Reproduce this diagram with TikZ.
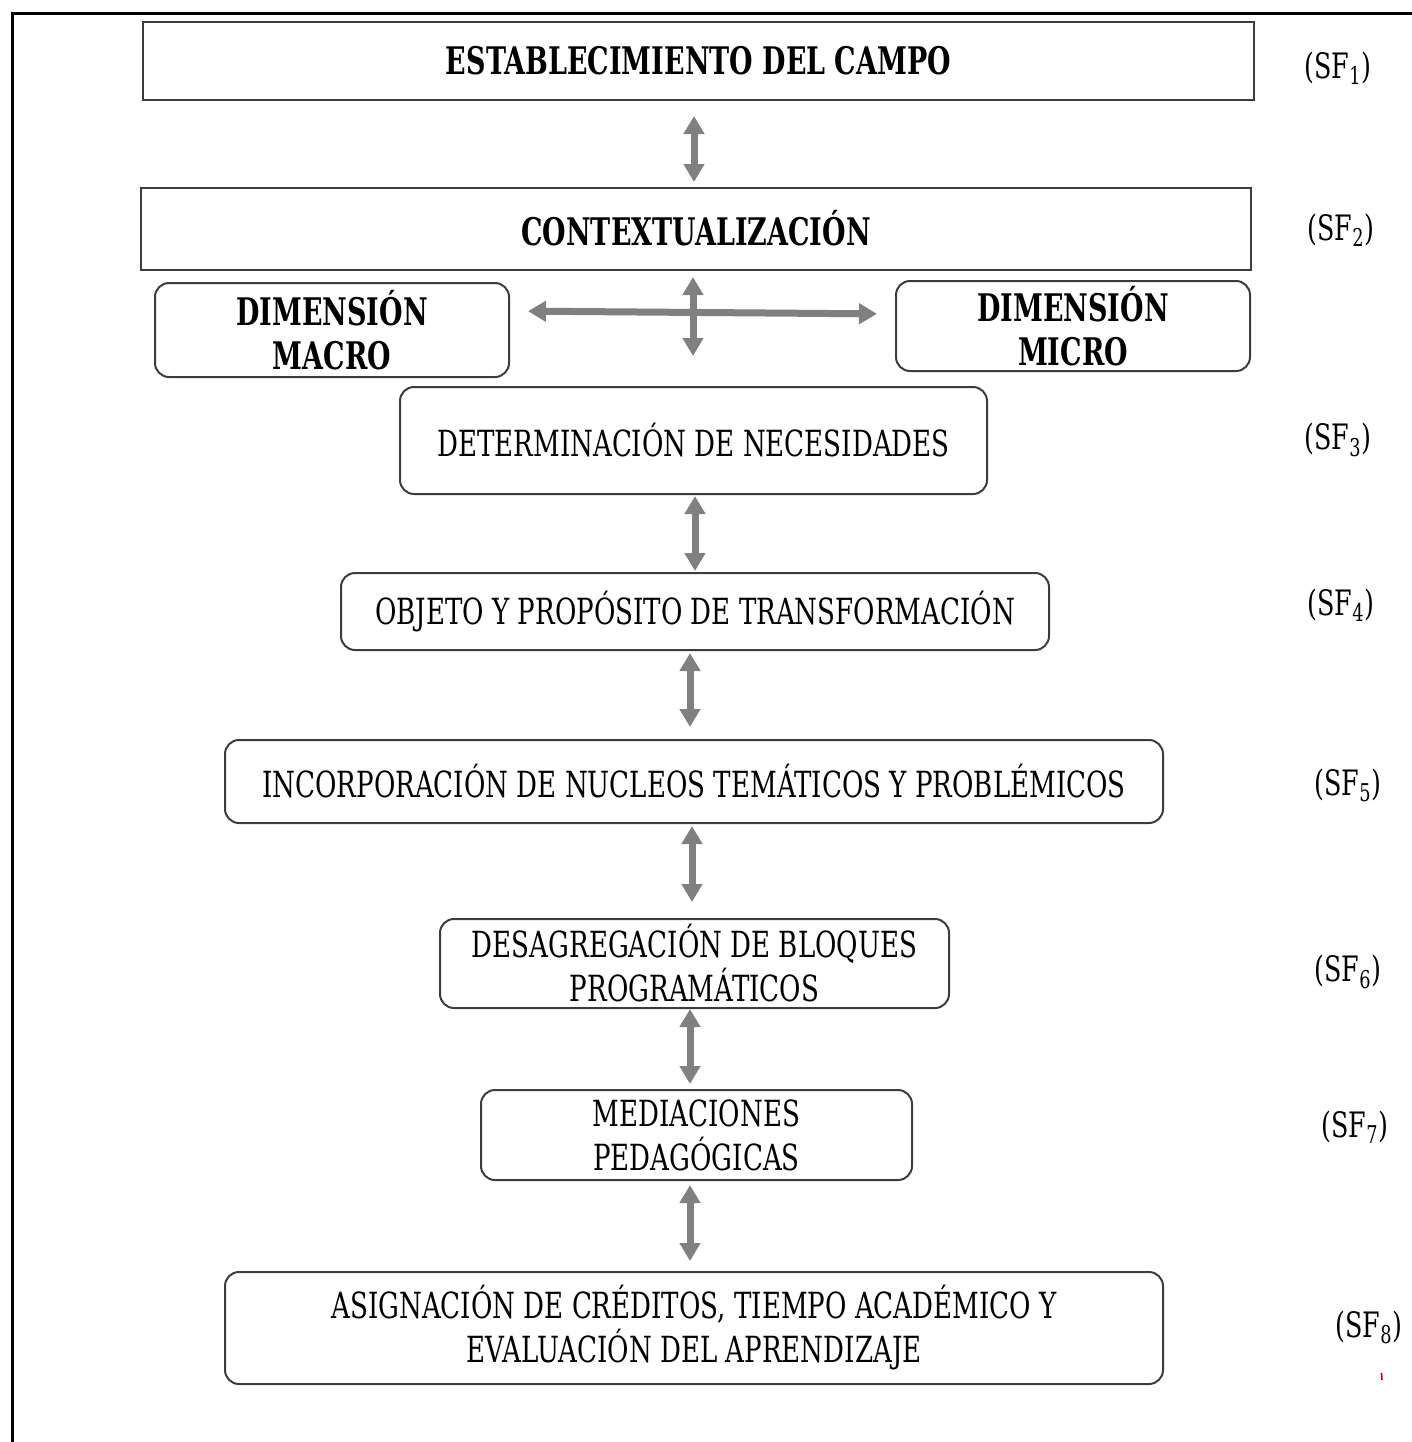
\documentclass[tikz,border=0pt]{standalone}
\usepackage{fontspec}
\setmainfont{DejaVu Serif}[FakeStretch=0.725,BoldFeatures={FakeStretch=0.71}]
\usetikzlibrary{arrows.meta}
\definecolor{arrowgray}{RGB}{128,128,128}
\definecolor{boxline}{RGB}{60,60,60}
\begin{document}
\begin{tikzpicture}[x=0.5pt,y=-0.5pt,
  sqbox/.style={draw=boxline,line width=1pt,inner sep=0pt,align=center,font=\fontsize{19}{22}\selectfont\bfseries},
  rbox/.style={draw=boxline,line width=1pt,rounded corners=7pt,inner sep=0pt,align=center,font=\fontsize{18}{22}\selectfont},
  dimbox/.style={rbox,font=\fontsize{19}{22}\selectfont\bfseries},
  dblarrow/.style={draw=arrowgray,line width=3.5pt,{Triangle[width=10pt,length=9pt]}-{Triangle[width=10pt,length=9pt]}},
  sflabel/.style={inner sep=0pt,font=\fontsize{17.5}{20}\selectfont}
]
\useasboundingbox (0,0) rectangle (1412,1442);
% outer frame
\draw[line width=1.5pt] (12,1442) -- (12,13) -- (1412,13);

% boxes
\node[sqbox,minimum width=555.5pt,minimum height=39pt] (b1) at (698.5,61) {\raisebox{1pt}{ESTABLECIMIENTO DEL CAMPO}};
\node[sqbox,minimum width=555pt,minimum height=41pt] (b2) at (696,229) {\raisebox{1pt}{CONTEXTUALIZACIÓN}};
\node[dimbox,minimum width=177pt,minimum height=47pt] (mac) at (332,330) {DIMENSIÓN\\MACRO};
\node[dimbox,minimum width=177pt,minimum height=45pt] (mic) at (1073,326) {DIMENSIÓN\\MICRO};
\node[rbox,minimum width=293.5pt,minimum height=53.5pt] (b3) at (693.5,440.5) {\raisebox{1pt}{DETERMINACIÓN DE NECESIDADES}};
\node[rbox,minimum width=354pt,minimum height=38.5pt] (b4) at (695,611.5) {OBJETO Y PROPÓSITO DE TRANSFORMACIÓN};
\node[rbox,minimum width=469pt,minimum height=41.5pt] (b5) at (694,781.5) {\raisebox{1pt}{INCORPORACIÓN DE NUCLEOS TEMÁTICOS Y PROBLÉMICOS}};
\node[rbox,minimum width=254.5pt,minimum height=44.5pt] (b6) at (694.5,963.5) {DESAGREGACIÓN DE BLOQUES\\PROGRAMÁTICOS};
\node[rbox,minimum width=215.5pt,minimum height=45pt] (b7) at (696.5,1135) {MEDIACIONES\\PEDAGÓGICAS};
\node[rbox,minimum width=469pt,minimum height=56pt] (b8) at (694,1328) {ASIGNACIÓN DE CRÉDITOS, TIEMPO ACADÉMICO Y\\EVALUACIÓN DEL APRENDIZAJE};

% column coordinates for vertical arrows
\coordinate (c1) at (694,0);
\coordinate (c2) at (693,0);
\coordinate (c3) at (695,0);
\coordinate (c4) at (690,0);
\coordinate (c5) at (692,0);
\coordinate (c6) at (690,0);
\coordinate (c7) at (690,0);

% arrows
\draw[dblarrow,shorten <=7.5pt,shorten >=2.5pt] (b1.south -| c1) -- (b2.north -| c1);
\draw[dblarrow,shorten <=3pt,shorten >=15pt] (b2.south -| c2) -- (b3.north -| c2);
\draw[dblarrow,shorten <=9pt,shorten >=9pt] ([yshift=9.5pt]mac.east) -- ([yshift=6pt]mic.west);
\draw[dblarrow,shorten <=0.5pt,shorten >=0.5pt] (b3.south -| c3) -- (b4.north -| c3);
\draw[dblarrow,shorten <=1pt,shorten >=6pt] (b4.south -| c4) -- (b5.north -| c4);
\draw[dblarrow,shorten <=1pt,shorten >=8pt] (b5.south -| c5) -- (b6.north -| c5);
\draw[dblarrow,shorten <=0pt,shorten >=2.5pt] (b6.south -| c6) -- (b7.north -| c6);
\draw[dblarrow,shorten <=2pt,shorten >=5pt] (b7.south -| c7) -- (b8.north -| c7);

% SF labels
\node[sflabel] (sf1) at (1338,68) {(SF\textsubscript{1})};
\node[sflabel] (sf2) at (1341,230) {(SF\textsubscript{2})};
\node[sflabel] (sf3) at (1338,440) {(SF\textsubscript{3})};
\node[sflabel] (sf4) at (1341,605) {(SF\textsubscript{4})};
\node[sflabel] (sf5) at (1348,785) {(SF\textsubscript{5})};
\node[sflabel] (sf6) at (1348,972) {(SF\textsubscript{6})};
\node[sflabel] (sf7) at (1355,1127) {(SF\textsubscript{7})};
\node[sflabel] (sf8) at (1369,1327) {(SF\textsubscript{8})};

% small red mark
\draw[red!80!black,line width=0.8pt] (1381.5,1373) -- (1382,1380);
\end{tikzpicture}
\end{document}
